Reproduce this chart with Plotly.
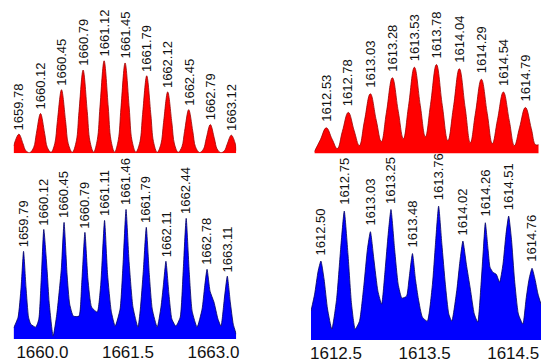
import plotly.graph_objects as go

# ------------------------------------------------------------------ data
# top-left (red) : isotope envelope, m/z 1659.78 ...
tl_peak_mz = [1659.78, 1660.12, 1660.45, 1660.79, 1661.12, 1661.45,
              1661.79, 1662.12, 1662.45, 1662.79, 1663.12]
tl_peak_int = [20.7, 43, 68.8, 90, 100, 97.7, 83.8, 66.4, 47.2, 31.1, 19.6]
tl_prof_mz = [1659.697, 1659.78, 1659.845, 1659.886, 1659.95,
              1660.014, 1660.055, 1660.12, 1660.185, 1660.226, 1660.285,
              1660.344, 1660.385, 1660.45, 1660.515, 1660.556, 1660.62,
              1660.684, 1660.725, 1660.79, 1660.855, 1660.896, 1660.955,
              1661.014, 1661.055, 1661.12, 1661.185, 1661.226, 1661.285,
              1661.344, 1661.385, 1661.45, 1661.515, 1661.556, 1661.62,
              1661.684, 1661.725, 1661.79, 1661.855, 1661.896, 1661.955,
              1662.014, 1662.055, 1662.12, 1662.185, 1662.226, 1662.285,
              1662.344, 1662.385, 1662.45, 1662.515, 1662.556, 1662.62,
              1662.684, 1662.725, 1662.79, 1662.855, 1662.896, 1662.955,
              1663.014, 1663.055, 1663.12, 1663.185, 1663.198]
tl_prof_int = [8, 20.7, 10.3, 3.1, 0.6,
               6.5, 21.5, 43, 21.5, 6.5, 1,
               10.3, 34.4, 68.8, 34.4, 10.3, 1,
               13.5, 45, 90, 45, 13.5, 1.2,
               15, 50, 100, 50, 15, 1.2,
               14.7, 48.9, 97.7, 48.9, 14.7, 1.2,
               12.6, 41.9, 83.8, 41.9, 12.6, 1,
               10, 33.2, 66.4, 33.2, 10, 1,
               7.1, 23.6, 47.2, 23.6, 7.1, 0.8,
               4.7, 15.6, 31.1, 15.6, 4.7, 0.6,
               2.9, 9.8, 19.6, 9.8, 3]

# bottom-left (blue)
bl_peak_mz = [1659.79, 1660.12, 1660.45, 1660.79, 1661.11, 1661.46,
              1661.79, 1662.11, 1662.44, 1662.78, 1663.11]
bl_peak_int = [67.7, 84.6, 90, 82.3, 91.5, 100, 86.2, 60, 93.1, 53.8, 48.5]
bl_prof_mz = [1659.628, 1659.701, 1659.750, 1659.790, 1659.830, 1659.871, 1659.908, 1659.989,
              1660.039, 1660.078, 1660.120, 1660.175, 1660.207, 1660.272,
              1660.332, 1660.405, 1660.450, 1660.499, 1660.542, 1660.602, 1660.693,
              1660.737, 1660.790, 1660.839, 1660.899, 1660.991,
              1661.048, 1661.110, 1661.159, 1661.219, 1661.283,
              1661.363, 1661.411, 1661.460, 1661.509, 1661.573, 1661.654,
              1661.693, 1661.741, 1661.790, 1661.839, 1661.887, 1661.968,
              1662.029, 1662.070, 1662.110, 1662.159, 1662.207, 1662.272,
              1662.343, 1662.391, 1662.440, 1662.489, 1662.537, 1662.618,
              1662.699, 1662.740, 1662.780, 1662.829, 1662.893, 1662.958, 1663.007,
              1663.061, 1663.110, 1663.159, 1663.207, 1663.256]
bl_prof_int = [8.5, 16.9, 40, 67.7, 40, 16.9, 11.5, 9.2,
               15.4, 46.2, 84.6, 52.3, 28.5, 2.3,
               19.2, 53.8, 90, 50, 26.9, 17.7, 17.7,
               42.3, 82.3, 46.2, 24.6, 20.8,
               42.3, 91.5, 50, 21.5, 10,
               23.1, 57.7, 100, 60, 24.6, 9.2,
               23.1, 52.3, 86.2, 50, 23.1, 9.2,
               24.6, 42.3, 60, 34.6, 15.4, 10,
               16.9, 52.3, 93.1, 52.3, 21.5, 9.2,
               23.1, 40, 53.8, 36.9, 28.5, 15.4, 10,
               30.8, 48.5, 28.5, 11.5, 3.8]
bl_ticks = [1660.0, 1661.5, 1663.0]

# top-right (red)
tr_peak_mz = [1612.53, 1612.78, 1613.03, 1613.28, 1613.53,
              1613.78, 1614.04, 1614.29, 1614.54, 1614.79]
tr_peak_int = [28.9, 46.3, 67.2, 85.2, 97, 100, 95.3, 83.5, 69.2, 51.8]
tr_prof_mz = [1612.395, 1612.463, 1612.53, 1612.597, 1612.655,
              1612.713, 1612.78, 1612.847, 1612.905,
              1612.963, 1613.03, 1613.097, 1613.155,
              1613.213, 1613.28, 1613.347, 1613.405,
              1613.463, 1613.53, 1613.597, 1613.655,
              1613.713, 1613.78, 1613.847, 1613.91,
              1613.973, 1614.04, 1614.107, 1614.165,
              1614.223, 1614.29, 1614.357, 1614.415,
              1614.473, 1614.54, 1614.607, 1614.665,
              1614.723, 1614.79, 1614.857, 1614.905, 1614.941]
tr_prof_int = [2.2, 15.5, 28.9, 16, 5.6,
               25, 46.3, 25.5, 9,
               36.5, 67.2, 37.5, 13.5,
               46.5, 85.2, 47.5, 16.8,
               53, 97, 54, 19,
               55, 100, 54, 14.6,
               52, 95.3, 51, 12.3,
               45.5, 83.5, 45, 11.2,
               38, 69.2, 37, 9,
               29, 51.8, 28, 10, 10]

# bottom-right (blue)
br_peak_mz = [1612.50, 1612.75, 1613.03, 1613.25, 1613.48,
              1613.76, 1614.02, 1614.26, 1614.51, 1614.76]
br_peak_int = [59, 96.3, 80.9, 97.5, 64.6, 100, 73.9, 87.6, 92.6, 53.6]
br_prof_mz = [1612.394, 1612.433, 1612.470, 1612.500, 1612.534, 1612.571, 1612.617,
              1612.668, 1612.711, 1612.750, 1612.790, 1612.828, 1612.867,
              1612.913, 1612.961, 1612.998, 1613.030, 1613.067, 1613.110, 1613.150,
              1613.188, 1613.220, 1613.250, 1613.289, 1613.327, 1613.367, 1613.417,
              1613.443, 1613.480, 1613.512, 1613.544, 1613.586, 1613.639,
              1613.694, 1613.726, 1613.760, 1613.795, 1613.832, 1613.869, 1613.901,
              1613.956, 1613.988, 1614.020, 1614.057, 1614.100, 1614.142, 1614.179,
              1614.214, 1614.239, 1614.260, 1614.289, 1614.310, 1614.342, 1614.377, 1614.413,
              1614.449, 1614.481, 1614.510, 1614.540, 1614.572, 1614.614, 1614.662,
              1614.696, 1614.728, 1614.760, 1614.792, 1614.824, 1614.856]
br_prof_int = [21.8, 34.3, 51.4, 59, 45.4, 23.1, 8.2,
               30.5, 67.8, 96.3, 64, 26.8, 8.2,
               14.1, 41.7, 67.8, 80.9, 60.3, 36.5, 26.8,
               52.9, 78.9, 97.5, 67.8, 41.7, 31.3, 32.8,
               45.4, 64.6, 45.4, 30.5, 17.1, 14.1,
               41.7, 71.5, 100, 71.5, 41.7, 19.4, 14.1,
               38, 58.8, 73.9, 56.6, 38, 19.4, 13.4,
               41.7, 67.8, 87.6, 67.8, 54.4, 50.6, 49.1, 43.2,
               56.6, 78.9, 92.6, 75.2, 45.4, 19.4, 11.9,
               30.5, 45.4, 53.6, 45.4, 34.3, 26.8]
br_ticks = [1612.5, 1613.5, 1614.5]

# ------------------------------------------------------------------ layout
W, H = 544, 363
FONT = "Arial, 'Liberation Sans', sans-serif"
RED, RED_EDGE = "#ff0000", "#9a0000"
BLUE, BLUE_EDGE = "#0000ff", "#000060"

# pixel geometry of each panel: left, right, baseline, top, px per 100 intensity
geom = {
    "tl": dict(x0=12.7, x1=237.0, yb=153.7, yt=0.0, s=92.7, xr=[1659.697, 1663.198]),
    "bl": dict(x0=12.7, x1=237.0, yb=340.0, yt=175.0, s=130.0, xr=[1659.628, 1663.256]),
    "tr": dict(x0=315.7, x1=541.7, yb=154.0, yt=0.0, s=89.2, xr=[1612.395, 1614.941]),
    "br": dict(x0=312.3, x1=544.0, yb=341.0, yt=175.0, s=134.3, xr=[1612.394, 1614.856]),
}
axis_ids = {"tl": "", "bl": "2", "tr": "3", "br": "4"}

panels = {
    "tl": (tl_prof_mz, tl_prof_int, tl_peak_mz, tl_peak_int, RED, RED_EDGE, 1.0, 2),
    "bl": (bl_prof_mz, bl_prof_int, bl_peak_mz, bl_peak_int, BLUE, BLUE_EDGE, 0.5, 2),
    "tr": (tr_prof_mz, tr_prof_int, tr_peak_mz, tr_peak_int, RED, RED_EDGE, 1.2, 4),
    "br": (br_prof_mz, br_prof_int, br_peak_mz, br_peak_int, BLUE, BLUE_EDGE, 0.5, 4),
}

fig = go.Figure()
annotations = []
layout = dict(width=W, height=H, margin=dict(l=0, r=0, t=0, b=0),
              paper_bgcolor="white", plot_bgcolor="white", showlegend=False)

for key, (pmz, pint, kmz, kint, fc, lc, smooth, yshift) in panels.items():
    g = geom[key]
    aid = axis_ids[key]
    xa, ya = "x" + aid, "y" + aid
    fig.add_trace(go.Scatter(x=pmz, y=pint, mode="lines", xaxis=xa, yaxis=ya,
                             fill="tozeroy", fillcolor=fc,
                             line=dict(color=lc, width=0.8, shape="spline",
                                       smoothing=smooth),
                             hoverinfo="skip"))
    xdom = [g["x0"] / W, g["x1"] / W]
    ydom = [1 - g["yb"] / H, 1 - g["yt"] / H]
    ytop = (g["yb"] - g["yt"]) / g["s"] * 100
    layout["xaxis" + aid] = dict(domain=xdom, range=g["xr"], anchor=ya, visible=False)
    layout["yaxis" + aid] = dict(domain=ydom, range=[0, ytop], anchor=xa, visible=False)
    for m, v in zip(kmz, kint):
        annotations.append(dict(x=m, y=v, xref=xa, yref=ya, text=f"{m:.2f}",
                                showarrow=False, textangle=-90,
                                xanchor="center", yanchor="bottom", yshift=yshift,
                                font=dict(family=FONT, size=13, color="#111111")))

# tick-label axes of the lower panels, placed where the labels sit in the picture
tick_axes = {
    "5": ("x2", "y2", geom["bl"], [1659.495, 1663.40], bl_ticks),
    "6": ("x4", "y4", geom["br"], [1612.218, 1614.814], br_ticks),
}
for aid, (over, ya, g, rng, tv) in tick_axes.items():
    layout["xaxis" + aid] = dict(overlaying=over, anchor=ya, side="bottom",
                                 domain=[g["x0"] / W, g["x1"] / W], range=rng,
                                 tickvals=tv, ticktext=[f"{t:.1f}" for t in tv],
                                 ticks="", showline=False, showgrid=False,
                                 zeroline=False, ticklabelstandoff=1,
                                 tickfont=dict(family=FONT, size=17, color="#111111"))
    fig.add_trace(go.Scatter(x=[rng[0]], y=[0], xaxis="x" + aid, yaxis=ya,
                             mode="markers", marker=dict(opacity=0),
                             hoverinfo="skip"))

layout["annotations"] = annotations
fig.update_layout(**layout)
fig.write_html(
    "out.html",
    config={"displayModeBar": False, "staticPlot": True},
    post_script="document.body.style.margin='0';document.body.style.padding='0';"
                "document.documentElement.style.overflow='hidden';",
)
